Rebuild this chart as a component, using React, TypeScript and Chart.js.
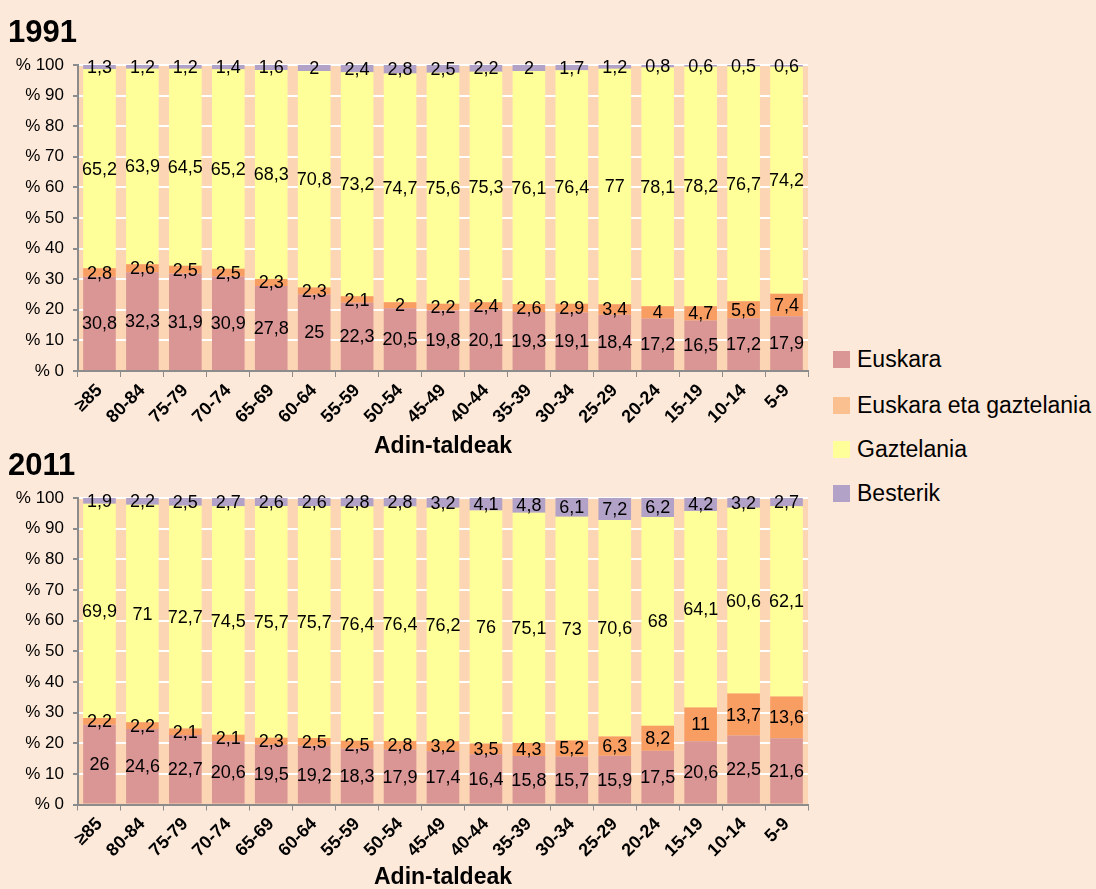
import React, { useEffect, useRef } from 'react';
import { Chart, registerables } from 'chart.js';

Chart.register(...registerables);

const categories = ['≥85', '80-84', '75-79', '70-74', '65-69', '60-64', '55-59', '50-54', '45-49', '40-44', '35-39', '30-34', '25-29', '20-24', '15-19', '10-14', '5-9'];

const seriesNames = ['Euskara', 'Euskara eta gaztelania', 'Gaztelania', 'Besterik'];

const euskara1991 = [30.8, 32.3, 31.9, 30.9, 27.8, 25, 22.3, 20.5, 19.8, 20.1, 19.3, 19.1, 18.4, 17.2, 16.5, 17.2, 17.9];
const biak1991 = [2.8, 2.6, 2.5, 2.5, 2.3, 2.3, 2.1, 2, 2.2, 2.4, 2.6, 2.9, 3.4, 4, 4.7, 5.6, 7.4];
const gaztelania1991 = [65.2, 63.9, 64.5, 65.2, 68.3, 70.8, 73.2, 74.7, 75.6, 75.3, 76.1, 76.4, 77, 78.1, 78.2, 76.7, 74.2];
const besterik1991 = [1.3, 1.2, 1.2, 1.4, 1.6, 2, 2.4, 2.8, 2.5, 2.2, 2, 1.7, 1.2, 0.8, 0.6, 0.5, 0.6];

const euskara2011 = [26, 24.6, 22.7, 20.6, 19.5, 19.2, 18.3, 17.9, 17.4, 16.4, 15.8, 15.7, 15.9, 17.5, 20.6, 22.5, 21.6];
const biak2011 = [2.2, 2.2, 2.1, 2.1, 2.3, 2.5, 2.5, 2.8, 3.2, 3.5, 4.3, 5.2, 6.3, 8.2, 11, 13.7, 13.6];
const gaztelania2011 = [69.9, 71, 72.7, 74.5, 75.7, 75.7, 76.4, 76.4, 76.2, 76, 75.1, 73, 70.6, 68, 64.1, 60.6, 62.1];
const besterik2011 = [1.9, 2.2, 2.5, 2.7, 2.6, 2.6, 2.8, 2.8, 3.2, 4.1, 4.8, 6.1, 7.2, 6.2, 4.2, 3.2, 2.7];

const yTicks = [0, 10, 20, 30, 40, 50, 60, 70, 80, 90, 100];
const xTitle = 'Adin-taldeak';

const barColors = ['#D99694', '#F99E63', '#FFFF99', '#B3A2C7'];
const legendColors = ['#D99694', '#FAC090', '#FFFF99', '#B3A2C7'];

const FONT = '"Liberation Sans", Arial, sans-serif';

const plotBg = {
  id: 'plotBg',
  beforeDraw(chart: any) {
    const { ctx, chartArea } = chart;
    ctx.save();
    ctx.fillStyle = '#FCD5B5';
    ctx.fillRect(chartArea.left, chartArea.top, chartArea.right - chartArea.left, chartArea.bottom - chartArea.top);
    ctx.restore();
  },
};

const dataLabels = {
  id: 'dataLabels',
  afterDatasetsDraw(chart: any) {
    const { ctx } = chart;
    ctx.save();
    ctx.font = '18px ' + FONT;
    ctx.fillStyle = '#000';
    ctx.textAlign = 'center';
    ctx.textBaseline = 'middle';
    chart.data.datasets.forEach((ds: any, di: number) => {
      const meta = chart.getDatasetMeta(di);
      meta.data.forEach((bar: any, i: number) => {
        const raw = ds.rawValues[i];
        const y = (bar.y + bar.base) / 2;
        ctx.fillText(String(raw).replace('.', ','), bar.x, y + 1);
      });
    });
    ctx.restore();
  },
};

const yearTitle = {
  id: 'yearTitle',
  afterDraw(chart: any, _args: any, opts: any) {
    const { ctx } = chart;
    ctx.save();
    ctx.font = 'bold 31px ' + FONT;
    ctx.fillStyle = '#000';
    ctx.textAlign = 'left';
    ctx.textBaseline = 'alphabetic';
    ctx.fillText(opts.text, opts.x, opts.y);
    ctx.restore();
  },
};

function buildConfig(series: number[][], year: string, titleY: number, padTop: number, xHeight: number) {
  const sums = categories.map((_, i) => series.reduce((s, arr) => s + arr[i], 0));
  return {
    type: 'bar',
    data: {
      labels: categories,
      datasets: series.map((arr, k) => ({
        label: seriesNames[k],
        data: arr.map((v, i) => (v / sums[i]) * 100),
        rawValues: arr,
        backgroundColor: barColors[k],
        borderWidth: 0,
        barPercentage: 0.76,
        categoryPercentage: 1,
      })),
    },
    options: {
      animation: false,
      responsive: false,
      layout: { padding: { top: padTop, right: 22, left: 0, bottom: 0 } },
      plugins: {
        legend: { display: false },
        tooltip: { enabled: false },
        yearTitle: { text: year, x: 8, y: titleY },
      },
      scales: {
        x: {
          stacked: true,
          offset: true,
          afterFit(scale: any) { scale.height = xHeight; },
          grid: { drawOnChartArea: false, drawTicks: true, tickLength: 6, tickColor: '#8C8C8C', offset: true },
          border: { color: '#8C8C8C', width: 2 },
          ticks: {
            autoSkip: false,
            minRotation: 45,
            maxRotation: 45,
            padding: 3,
            color: '#000',
            font: { family: FONT, size: 18, weight: 'bold' },
          },
          title: {
            display: true,
            text: xTitle,
            color: '#000',
            font: { family: FONT, size: 23, weight: 'bold', lineHeight: 1 },
            padding: 0,
          },
        },
        y: {
          stacked: true,
          min: 0,
          max: 100,
          afterFit(scale: any) { scale.width = 78; },
          afterBuildTicks(scale: any) { scale.ticks = yTicks.map((v) => ({ value: v })); },
          grid: {
            color: (c: any) => (c.tick && c.tick.value === 0 ? 'rgba(0,0,0,0)' : '#FFFFFF'),
            lineWidth: 2,
            tickColor: '#8C8C8C',
            tickLength: 5,
            drawTicks: true,
          },
          border: { color: '#8C8C8C', width: 2 },
          ticks: {
            padding: 9,
            color: '#000',
            font: { family: FONT, size: 17 },
            callback: (v: any) => '% ' + v,
          },
        },
      },
    },
    plugins: [plotBg, dataLabels, yearTitle],
  } as any;
}

function YearChart(props: { series: number[][]; year: string; top: number; height: number; titleY: number; padTop: number; xHeight: number }) {
  const ref = useRef<HTMLCanvasElement>(null);
  useEffect(() => {
    const chart = new Chart(ref.current as HTMLCanvasElement, buildConfig(props.series, props.year, props.titleY, props.padTop, props.xHeight));
    return () => chart.destroy();
  }, []);
  return (
    <canvas
      ref={ref}
      width={830}
      height={props.height}
      style={{ position: 'absolute', left: 0, top: props.top, width: 830, height: props.height }}
    />
  );
}

const legendRows = [359, 405, 449, 493];

export default function App() {
  return (
    <div style={{ position: 'fixed', left: 0, top: 0, width: 1096, height: 889, background: '#FDE9D9', overflow: 'hidden' }}>
      <YearChart series={[euskara1991, biak1991, gaztelania1991, besterik1991]} year="1991" top={0} height={458} titleY={42} padTop={65} xHeight={87} />
      <YearChart series={[euskara2011, biak2011, gaztelania2011, besterik2011]} year="2011" top={440} height={449} titleY={35} padTop={58} xHeight={84.5} />
      {seriesNames.map((name, k) => (
        <div key={name} style={{ position: 'absolute', left: 833, top: legendRows[k] - 14, height: 28, display: 'flex', alignItems: 'center', fontFamily: FONT, fontSize: 23, color: '#000', whiteSpace: 'nowrap' }}>
          <span style={{ display: 'inline-block', width: 17, height: 17, background: legendColors[k], marginRight: 7 }} />
          <span>{name}</span>
        </div>
      ))}
    </div>
  );
}
